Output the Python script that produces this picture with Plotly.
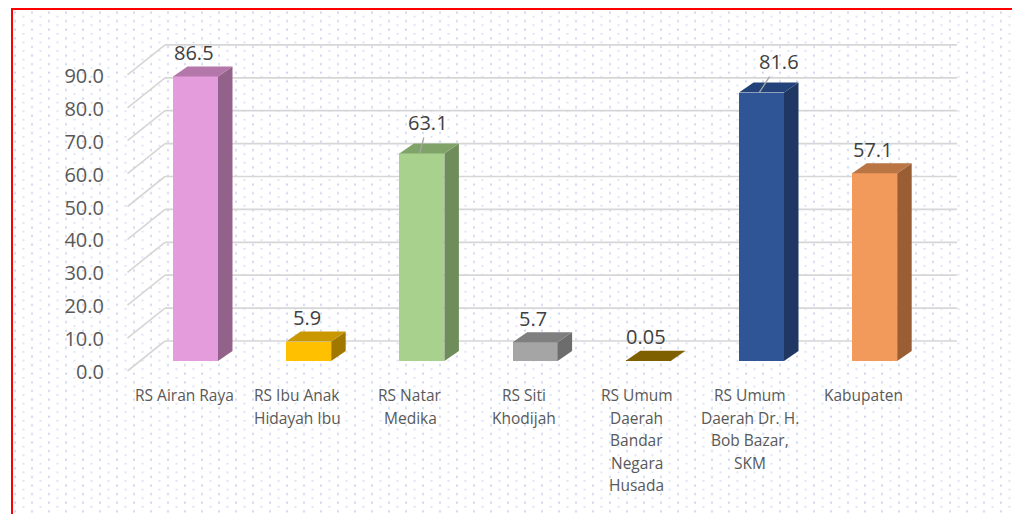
import base64
import plotly.graph_objects as go

# ---------------- data ----------------
categories = [
    "RS Airan Raya",
    "RS Ibu Anak Hidayah Ibu",
    "RS Natar Medika",
    "RS Siti Khodijah",
    "RS Umum Daerah Bandar Negara Husada",
    "RS Umum Daerah Dr. H. Bob Bazar, SKM",
    "Kabupaten",
]
category_lines = [
    ["RS Airan Raya"],
    ["RS Ibu Anak", "Hidayah Ibu"],
    ["RS Natar", "Medika"],
    ["RS Siti", "Khodijah"],
    ["RS Umum", "Daerah", "Bandar", "Negara", "Husada"],
    ["RS Umum", "Daerah Dr. H.", "Bob Bazar,", "SKM"],
    ["Kabupaten"],
]
values = [86.5, 5.9, 63.1, 5.7, 0.05, 81.6, 57.1]
value_labels = ["86.5", "5.9", "63.1", "5.7", "0.05", "81.6", "57.1"]
tick_values = [0, 10, 20, 30, 40, 50, 60, 70, 80, 90]
tick_labels = ["0.0", "10.0", "20.0", "30.0", "40.0", "50.0", "60.0", "70.0", "80.0", "90.0"]

# ---------------- styles ----------------
front_colors = ["#E59CDC", "#FFC000", "#A9D18E", "#A5A5A5", "#7F6000", "#2F5597", "#F29A5C"]
top_colors = ["#B377A9", "#C99700", "#80A36A", "#7F7F7F", "#7F6000", "#23427A", "#B97544"]
side_colors = ["#93628B", "#A07800", "#6E8D5B", "#6D6D6D", "#665000", "#1F3762", "#9A5E35"]
leader = {5: (20, -31), 2: (8, -31)}  # labels with leader lines (pixel offsets)

OFF = 8                     # page body margin
W, H = 1020 - OFF, 514 - OFF
L, R, T, B = 100, 20, 12, 14
PW, PH = W - L - R, H - T - B
X0, SX = 195.5, 113.2       # (page px) first bar centre, pixels per category
Y0, SY = 361.0, 3.29        # (page px) value 0 on bar front plane, pixels per unit


def ux(px):
    return (px - X0) / SX


def uy(py):
    return (Y0 - py) / SY


def paper_x(px):
    return (px - OFF - L) / PW


def paper_y(py):
    return (H - B - (py - OFF)) / PH


hw = 22.5 / SX          # half bar width
ddx = 14.5 / SX         # depth offset x
ddy = 10.0 / SY         # depth offset y
wall_dy = 20.0 / SY     # back wall relative to bar front plane
floor_dy = -10.0 / SY   # front floor edge
wall_x0 = ux(165)
front_x0 = ux(127.5)
wall_x1 = ux(957)

fig = go.Figure()

shapes = []
# gridlines: back wall + diagonal side lines (behind the bars)
grid_line = dict(color="#D6D6D6", width=1.7)
for v in tick_values:
    shapes.append(dict(type="line", xref="x", yref="y", layer="below",
                       x0=front_x0, y0=v + floor_dy, x1=wall_x0, y1=v + wall_dy,
                       line=grid_line))
    shapes.append(dict(type="line", xref="x", yref="y", layer="below",
                       x0=wall_x0, y0=v + wall_dy, x1=wall_x1, y1=v + wall_dy,
                       line=grid_line))

idx = list(range(len(values)))
# front faces
fig.add_trace(go.Bar(x=idx, y=values, width=2 * hw, base=0,
                     marker=dict(color=front_colors, line=dict(width=0)),
                     hoverinfo="skip", showlegend=False))

# side and top faces
for i, v in enumerate(values):
    x0, x1 = i - hw, i + hw
    fig.add_trace(go.Scatter(
        x=[x1, x1, x1 + ddx, x1 + ddx, x1],
        y=[0, v, v + ddy, ddy, 0],
        mode="lines", fill="toself", fillcolor=side_colors[i],
        line=dict(width=0, color=side_colors[i]),
        hoverinfo="skip", showlegend=False))
    fig.add_trace(go.Scatter(
        x=[x0, x1, x1 + ddx, x0 + ddx, x0],
        y=[v, v, v + ddy, v + ddy, v],
        mode="lines", fill="toself", fillcolor=top_colors[i],
        line=dict(width=0, color=top_colors[i]),
        hoverinfo="skip", showlegend=False))

annotations = []
# data labels
for i, (v, lab) in enumerate(zip(values, value_labels)):
    if i in leader:
        axp, ayp = leader[i]
        annotations.append(dict(
            x=i - 0.02, y=v, xref="x", yref="y", text=lab, showarrow=True,
            arrowhead=0, arrowwidth=1.3, arrowcolor="#A6A6A6", ax=axp, ay=ayp,
            standoff=0, startstandoff=0,
            font=dict(family="Open Sans", size=20, color="#404040")))
    else:
        annotations.append(dict(
            x=i, y=v, xref="x", yref="y", text=lab, showarrow=False,
            xshift=-2, yshift=24, xanchor="center", yanchor="middle",
            font=dict(family="Open Sans", size=20, color="#404040")))

# category labels (one annotation per line)
for i, lines in enumerate(category_lines):
    for k, line in enumerate(lines):
        annotations.append(dict(
            x=i + ux(184) - ux(195.5), y=uy(395 + 22.5 * k), xref="x", yref="y",
            text=line, showarrow=False, xanchor="center", yanchor="middle",
            font=dict(family="Open Sans", size=15.5, color="#595959")))

# dotted background pattern
svg = (
    '<svg xmlns="http://www.w3.org/2000/svg" width="1008" height="504">'
    '<defs><pattern id="p" width="17" height="8.6" patternUnits="userSpaceOnUse">'
    '<rect x="2" y="1.5" width="2" height="2" fill="#cdd7ee"/>'
    '<rect x="10.5" y="5.8" width="2" height="1.5" fill="#d5ddf0"/>'
    '</pattern></defs><rect width="1008" height="504" fill="url(#p)"/></svg>'
)
src = "data:image/svg+xml;base64," + base64.b64encode(svg.encode()).decode()

# red frame
shapes.append(dict(type="rect", xref="paper", yref="paper",
                   x0=paper_x(12), x1=paper_x(1040), y0=paper_y(9), y1=paper_y(540),
                   line=dict(color="#FF0000", width=2), fillcolor="rgba(0,0,0,0)",
                   layer="above"))

fig.update_layout(
    width=W, height=H,
    margin=dict(l=L, r=R, t=T, b=B, pad=0),
    paper_bgcolor="white",
    plot_bgcolor="rgba(0,0,0,0)",
    xaxis=dict(range=[ux(L + OFF), ux(W - R + OFF)], showgrid=False, zeroline=False,
               showticklabels=False, showline=False, fixedrange=True),
    yaxis=dict(range=[uy(H - B + OFF), uy(T + OFF)], showgrid=False, zeroline=False,
               showline=False, tickmode="array",
               tickvals=[v + uy(372) for v in tick_values], ticktext=tick_labels,
               ticks="", ticklabelstandoff=3,
               tickfont=dict(family="Open Sans", size=20, color="#595959"),
               fixedrange=True),
    annotations=annotations,
    images=[dict(source=src, xref="paper", yref="paper",
                 x=paper_x(12), y=paper_y(10), sizex=paper_x(1020) - paper_x(12),
                 sizey=paper_y(10) - paper_y(514), sizing="stretch",
                 xanchor="left", yanchor="top", layer="below")],
    shapes=shapes,
    showlegend=False,
    bargap=0,
)

fig.write_html("out.html")
